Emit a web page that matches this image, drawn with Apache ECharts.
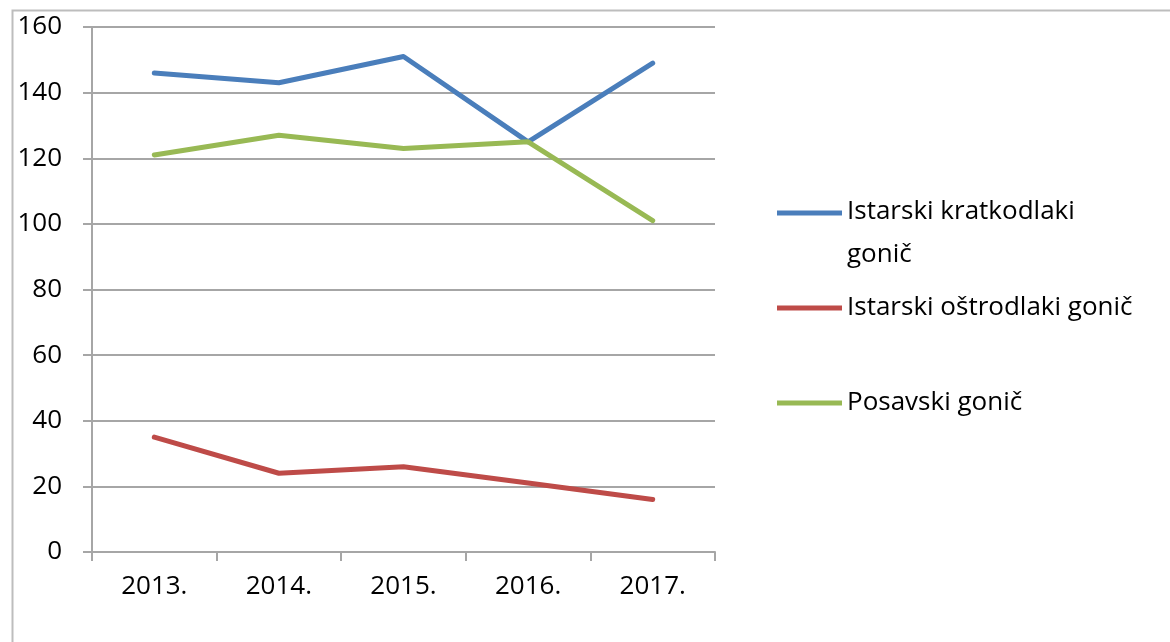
<!DOCTYPE html>
<html>
<head>
<meta charset="utf-8">
<script src="https://cdn.jsdelivr.net/npm/echarts@6/dist/echarts.min.js"></script>
<style>
  html, body { margin: 0; padding: 0; background: #fff; }
  #chart { width: 1170px; height: 642px; }
</style>
</head>
<body>
<div id="chart"></div>
<script>
const years = ['2013.', '2014.', '2015.', '2016.', '2017.']
const kratkodlaki = [146, 143, 151, 125, 149]
const ostrodlaki = [35, 24, 26, 21, 16]
const posavski = [121, 127, 123, 125, 101]

const seriesNames = ['Istarski kratkodlaki gonič', 'Istarski oštrodlaki gonič', 'Posavski gonič']
const colors = ['#4a7ebb', '#be4b48', '#98b954']

const font = '"Open Sans", Lato, sans-serif'
const gridColor = '#a6a6a6'
const legendFont = { fontFamily: font, fontSize: 26, color: '#000' }

const chart = echarts.init(document.getElementById('chart'))

function legendAt(name, top, extra) {
  return Object.assign({
    data: [name],
    left: 772,
    top: top,
    orient: 'vertical',
    icon: 'rect',
    itemWidth: 65,
    itemHeight: 5,
    selectedMode: false,
    itemStyle: { borderWidth: 0 },
    textStyle: Object.assign({ lineHeight: 42 }, legendFont),
  }, extra || {})
}

chart.setOption({
  animation: false,
  backgroundColor: '#fff',
  color: colors,
  graphic: [{
    type: 'rect',
    left: 10, top: 8,
    shape: { width: 1200, height: 700 },
    style: { fill: 'none', stroke: '#bdbdbd', lineWidth: 2 },
    silent: true,
  }],
  grid: { left: 92, right: 455, top: 27, bottom: 90 },
  legend: [
    // first entry wraps; first line sits level with the icon
    legendAt(seriesNames[0], 194, {
      formatter: () => '{a|Istarski kratkodlaki}\n{b|gonič}',
      textStyle: Object.assign({
        rich: {
          a: Object.assign({ lineHeight: 84 }, legendFont),
          b: Object.assign({ lineHeight: 2 }, legendFont),
        },
      }, legendFont),
    }),
    legendAt(seriesNames[1], 282),
    legendAt(seriesNames[2], 377),
  ],
  xAxis: {
    type: 'category',
    data: years,
    boundaryGap: true,
    axisLine: { lineStyle: { color: gridColor, width: 2 } },
    axisTick: { show: true, length: 9, lineStyle: { color: gridColor, width: 2 } },
    axisLabel: { color: '#000', fontFamily: font, fontSize: 26, margin: 22 },
  },
  yAxis: {
    type: 'value',
    min: 0, max: 160, interval: 20,
    axisLine: { show: true, lineStyle: { color: gridColor, width: 2 } },
    axisTick: { show: true, length: 9, lineStyle: { color: gridColor, width: 2 } },
    splitLine: { lineStyle: { color: gridColor, width: 2 } },
    axisLabel: { color: '#000', fontFamily: font, fontSize: 26, margin: 30 },
  },
  series: [
    { name: seriesNames[0], data: kratkodlaki },
    { name: seriesNames[1], data: ostrodlaki },
    { name: seriesNames[2], data: posavski },
  ].map((s, i) => ({
    name: s.name,
    type: 'line',
    data: s.data,
    showSymbol: false,
    lineStyle: { color: colors[i], width: 5, cap: 'round', join: 'round' },
    itemStyle: { color: colors[i] },
  })),
})
</script>
</body>
</html>
